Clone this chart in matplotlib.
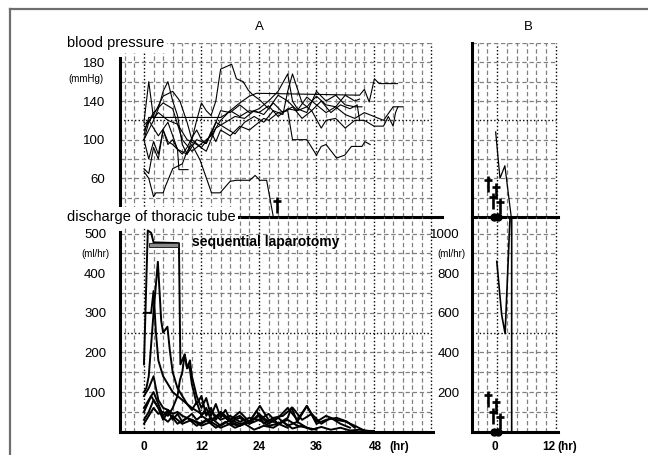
import numpy as np
import matplotlib
matplotlib.use("Agg")
import matplotlib.pyplot as plt
from matplotlib.path import Path
from matplotlib.lines import Line2D

plt.rcParams['font.family'] = ['Liberation Sans', 'DejaVu Sans']

W, H = 648, 455

# ---------------- data ----------------
# panel A, blood pressure (mmHg) against hours
bp1_t = [0, 1, 2, 3, 5, 7, 9, 11, 13, 15, 17, 19, 21, 23, 25, 27, 29, 31, 33, 35, 37, 38, 40, 42, 44, 46, 48, 50, 51, 52, 52.5, 53, 54]
bp1_v = [118, 160, 122, 128, 120, 116, 100, 95, 88, 112, 118, 124, 122, 130, 126, 138, 128, 134, 122, 130, 112, 120, 122, 112, 120, 120, 114, 114, 124, 114, 128, 134, 134]
bp2_t = [0, 1, 2.5, 4, 6, 7.5, 9, 10, 11, 12, 13, 14, 15, 16, 18.3, 19.3, 20.7, 21.8, 22.8, 24.2, 26, 28, 30, 32, 34, 36, 38, 40, 42, 44, 45]
bp2_v = [100, 118, 130, 145, 150, 140, 118, 100, 120, 138, 130, 125, 140, 173, 178, 163, 160, 151, 146, 141, 132, 146, 140, 130, 144, 136, 128, 134, 146, 140, 142]
bp3_t = [0, 2, 3, 4, 5, 6, 7, 8, 9, 10, 12, 14, 16, 18, 20, 22, 24, 26, 28, 30, 31, 32, 34, 36, 38, 40, 42, 44, 45.5]
bp3_v = [100, 120, 132, 150, 160, 140, 125, 95, 85, 100, 92, 105, 130, 128, 136, 128, 132, 140, 150, 168, 140, 132, 128, 150, 140, 146, 136, 134, 134]
bp4_t = [0, 1, 2, 3, 4, 5, 6, 7, 8, 9, 10, 11, 12, 13, 14, 15, 16, 18, 20, 22, 24, 25, 26, 28, 30, 31, 34, 36, 37, 38, 40.2, 41.9, 43.3, 45.5, 46.1, 47.2]
bp4_v = [70, 65, 92, 80, 110, 98, 95, 90, 85, 92, 102, 110, 100, 96, 108, 98, 110, 104, 114, 110, 118, 122, 120, 128, 130, 100, 100, 84, 93, 95, 81, 84, 93, 93, 98, 95]
bp5_t = [0, 1, 2, 2.5, 4, 4.5, 6, 8, 9, 10, 11.7, 13.4, 14.1, 15.9, 18, 19.4, 22.1, 23.2, 24.2, 25.6, 27]
bp5_v = [67, 60, 41, 45, 45, 52, 70, 75, 88, 95, 79, 55, 45, 45, 57, 58, 58, 63, 58, 58, 20]
bp6_t = [0, 1, 2, 3, 4, 5, 6, 7, 7.3, 9.2]
bp6_v = [100, 80, 98, 85, 110, 95, 100, 90, 69, 69]
bp7_t = [0, 1, 16, 17, 18, 20, 22, 24, 26, 28, 30, 32, 34, 36, 38, 40, 42, 44, 46, 48, 50, 52, 53]
bp7_v = [105, 123, 123, 126, 130, 124, 130, 128, 135, 124, 132, 130, 134, 145, 136, 134, 126, 122, 128, 124, 120, 134, 134]
bp8_t = [0, 2, 4, 6, 8, 10, 12, 14, 16, 18, 20, 22, 23.5, 45, 46, 47, 48.1, 49.1, 52.9]
bp8_v = [110, 128, 138, 132, 100, 88, 96, 104, 120, 130, 138, 145, 148, 146, 152, 139, 163, 158, 158]
bp9_t = [0, 1, 3, 5, 7, 9, 11, 13, 15, 17, 19, 21, 23, 25, 27, 29, 30, 31, 33, 35, 37, 39, 41, 43, 44.5, 45]
bp9_v = [115, 120, 104, 118, 90, 85, 100, 96, 118, 112, 106, 118, 124, 118, 130, 126, 150, 168, 138, 130, 140, 128, 136, 132, 136, 120]

# panel A, discharge of thoracic tube (ml/hr)
d1_t = [0, 0.8, 1.5, 2, 7.3, 7.6, 8.5, 9, 9.6, 10, 11, 12, 13, 14, 15, 16, 17, 18, 20, 22, 24, 26, 28, 30, 32, 34, 36]
d1_v = [170, 508, 502, 478, 476, 170, 195, 160, 180, 140, 90, 60, 85, 40, 70, 35, 55, 30, 50, 25, 40, 20, 35, 15, 25, 10, 5]
d2_t = [0, 0.5, 1, 2, 2.9, 3.6, 4, 4.9, 5.4, 6, 7, 8, 9, 10, 11, 12, 13, 14, 16, 18, 20, 22, 24, 26, 28, 30]
d2_v = [100, 110, 140, 300, 429, 280, 250, 265, 205, 150, 110, 90, 70, 55, 75, 40, 60, 30, 45, 25, 35, 20, 30, 15, 20, 10]
d3_t = [0, 1.5, 2, 2.5, 3, 4, 5, 6, 7, 8, 9, 10, 12, 14, 16, 18, 20, 22, 24, 26, 28, 30, 32, 34]
d3_v = [300, 300, 355, 250, 180, 140, 120, 100, 90, 80, 70, 60, 45, 50, 30, 40, 25, 35, 30, 45, 20, 30, 15, 10]
d4_t = [0, 1, 2, 3, 4, 5, 6, 7, 8, 9, 10, 11, 12, 14, 16, 18, 20, 22, 24, 26, 28, 30, 32, 34, 36, 38, 40, 42, 44, 45.8]
d4_v = [90, 110, 140, 80, 60, 55, 45, 50, 40, 35, 45, 30, 40, 25, 50, 30, 40, 20, 45, 25, 35, 60, 30, 65, 25, 40, 30, 26, 15, 4]
d5_t = [0, 1, 2, 3, 4, 5, 6, 7, 8, 9, 10, 12, 14, 16, 18, 20, 22, 23.5, 25, 27, 29, 31, 33, 35, 37, 39, 41, 43]
d5_v = [60, 80, 100, 70, 40, 55, 30, 45, 25, 35, 30, 20, 35, 15, 30, 20, 25, 52, 20, 35, 40, 61, 30, 45, 20, 35, 20, 10]
d6_t = [0, 1, 2, 3, 4, 5, 6, 8, 10, 12, 14, 16, 18, 20, 22, 24.2, 26, 28, 30, 30.8, 32, 34, 36, 38, 40.2, 42.3, 44]
d6_v = [30, 50, 80, 60, 35, 25, 40, 20, 30, 15, 25, 10, 20, 15, 25, 65, 30, 20, 35, 61, 25, 65, 20, 30, 35, 26, 10]
d7_t = [0, 1.5, 3, 4, 5, 7, 9, 11, 13, 15, 17, 19, 21, 23, 25, 27, 29, 31, 33, 35, 37, 39, 41, 43, 45, 47, 48]
d7_v = [50, 90, 60, 30, 50, 20, 35, 15, 30, 10, 25, 10, 20, 5, 15, 10, 25, 8, 15, 5, 12, 5, 10, 3, 5, 2, 2]
d8_t = [0, 1, 2, 3, 4, 5, 6, 7, 7.5, 8, 8.5, 9, 9.5, 10, 11, 12, 13, 14, 15, 16, 18, 20]
d8_v = [20, 40, 60, 45, 50, 40, 60, 90, 130, 150, 195, 160, 165, 120, 70, 90, 40, 60, 30, 50, 25, 15]

lap_start, lap_end, lap_level = 1.0, 7.1, 472   # sequential laparotomy bar

# panel B
bpB_t = [-0.33, 0.55, 1.55, 2.85]
bpB_v = [108, 60, 73, 20]
dB_t = [-0.1, 0.9, 1.6, 2.6, 2.94, 2.94]
dB_v = [860, 590, 495, 1084, 1084, 0]
death_A_t, death_A_v = [27.8], [32]
death_B_t = [-1.96, -0.33, -0.82, 0.55]
death_B_bp = [54, 47, 37, 31]
death_B_d = [164, 130, 80, 55]
dot_B_t = [-0.7, 0.2]

bp_ticks = [60, 100, 140, 180]
dA_ticks = [100, 200, 300, 400, 500]
dB_ticks = [200, 400, 600, 800, 1000]
xA_ticks = [0, 12, 24, 36, 48]
xB_ticks = [0, 12]

# ---------------- figure ----------------
fig = plt.figure(figsize=(W / 100, H / 100), dpi=100)


def px_axes(l, t, r, b):
    return fig.add_axes([l / W, 1 - b / H, (r - l) / W, (b - t) / H])


axA1 = px_axes(120, 43, 442, 217)
axA2 = px_axes(120, 217, 442, 431.7)
axB1 = px_axes(471.7, 43, 557.5, 217)
axB2 = px_axes(471.7, 217, 557.5, 431.7)

dash = dict(color='#808080', lw=0.9, ls=(0, (3.5, 2.2)), zorder=1)
dot = dict(color='black', lw=1.0, ls=(0, (1, 1.6)), zorder=1)


def grid(ax, xs, xlo, xhi, ys, ylo, yhi, dx, dy):
    # vertical lines at xs spanning ylo..yhi, horizontal at ys spanning xlo..xhi
    for x in xs:
        ax.plot([x, x], [ylo, yhi], **(dot if x % dx == 0 else dash))
    for y in ys:
        ax.plot([xlo, xhi], [y, y], **(dot if y == dy else dash))


for ax in (axA1, axA2, axB1, axB2):
    ax.patch.set_visible(False)
    ax.spines['top'].set_visible(False)
    ax.spines['right'].set_visible(False)
    for s in ('left', 'bottom'):
        ax.spines[s].set_linewidth(2.2)
    ax.tick_params(length=0)
    ax.set_xticks([])

axA1.set_xlim(-5.0, 62.2)
axA2.set_xlim(-5.0, 62.2)
axB1.set_xlim(-5.22, 12.29)
axB2.set_xlim(-5.22, 12.29)
axA1.set_ylim(20, 200)
axB1.set_ylim(20, 200)
axA2.set_ylim(0, 542)
axB2.set_ylim(0, 1084)

grid(axA1, range(-4, 61, 2), -5, 60, range(40, 201, 20), 20, 200, 12, 120)
grid(axA2, range(-4, 61, 2), -5, 60, range(50, 501, 50), 0, 542, 12, 250)
grid(axB1, range(-4, 13, 2), -5.22, 12, range(40, 201, 20), 20, 200, 12, 120)
grid(axB2, range(-4, 13, 2), -5.22, 12, range(100, 1001, 100), 0, 1084, 12, 500)

axA1.spines['left'].set_bounds(30, 185)
axA2.spines['left'].set_bounds(0, 504)
axA2.spines['bottom'].set_bounds(-5, 60.3)

axA1.set_yticks(bp_ticks, [str(v) for v in bp_ticks])
axA2.set_yticks(dA_ticks, [str(v) for v in dA_ticks])
axA1.tick_params(axis='y', pad=11, labelsize=9.5)
axA2.tick_params(axis='y', pad=10, labelsize=9.5)
axB1.set_yticks([])
axB2.set_yticks(dB_ticks, [str(v) for v in dB_ticks])
axB2.tick_params(axis='y', pad=8.5, labelsize=9.5)

# blood pressure lines
for t, v in [(bp1_t, bp1_v), (bp2_t, bp2_v), (bp3_t, bp3_v), (bp4_t, bp4_v), (bp5_t, bp5_v),
             (bp6_t, bp6_v), (bp7_t, bp7_v), (bp8_t, bp8_v), (bp9_t, bp9_v)]:
    axA1.plot(t, v, color='black', lw=0.8, zorder=2)

# discharge lines
for t, v in [(d1_t, d1_v), (d2_t, d2_v), (d3_t, d3_v), (d4_t, d4_v), (d5_t, d5_v),
             (d6_t, d6_v), (d7_t, d7_v), (d8_t, d8_v)]:
    axA2.plot(t, v, color='black', lw=1.4, zorder=2)

axA2.barh(lap_level, lap_end - lap_start, left=lap_start, height=10,
          color='#8a8a8a', edgecolor='#222222', lw=0.7, zorder=3)
axA2.text(10, 479, 'sequential laparotomy', fontsize=10, fontweight='bold',
          va='center', ha='left', zorder=4)

# death markers (dagger)
dagger = Path([(0, -1), (0, 1), (-0.55, 0.55), (0.55, 0.55)],
              [Path.MOVETO, Path.LINETO, Path.MOVETO, Path.LINETO])
mk = dict(marker=dagger, ls='none', color='black', ms=11, mew=1.9, zorder=4, clip_on=False)
axA1.plot(death_A_t, death_A_v, **mk)
axB1.plot(death_B_t, death_B_bp, **mk)
axB2.plot(death_B_t, death_B_d, **mk)

# panel B lines
axB1.plot(bpB_t, bpB_v, color='black', lw=0.9, zorder=2)
axB2.plot(dB_t, dB_v, color='black', lw=1.2, zorder=2, clip_on=False)
dotk = dict(marker='o', ls='none', color='black', ms=5, zorder=5, clip_on=False)
axB1.plot(dot_B_t, [20, 20], **dotk)
axB2.plot(dot_B_t, [0, 0], **dotk)

# x labels
lab = dict(textcoords='offset points', va='center', fontsize=8.5, fontweight='bold')
for t in xA_ticks:
    axA2.annotate(str(t), xy=(t, 0), xycoords=('data', 'axes fraction'),
                  xytext=(1 if t == 48 else 0, -11), ha='center', **lab)
axA2.annotate('(hr)', xy=(48, 0), xycoords=('data', 'axes fraction'),
              xytext=(11, -11), ha='left', **lab)
axB2.annotate('0', xy=(0, 0), xycoords=('data', 'axes fraction'),
              xytext=(-1.5, -11), ha='center', **lab)
axB2.annotate('12', xy=(12, 0), xycoords=('data', 'axes fraction'),
              xytext=(-5, -11), ha='center', **lab)
axB2.annotate('(hr)', xy=(12, 0), xycoords=('data', 'axes fraction'),
              xytext=(1, -11), ha='left', **lab)

# panel letters
axA1.annotate('A', xy=(24, 1), xycoords=('data', 'axes fraction'), xytext=(0, 11.5),
              textcoords='offset points', ha='center', va='center', fontsize=9.5)
axB1.annotate('B', xy=(6.3, 1), xycoords=('data', 'axes fraction'), xytext=(0, 11.5),
              textcoords='offset points', ha='center', va='center', fontsize=9.5)


def ftext(x, y, s, **kw):
    fig.text(x / W, 1 - y / H, s, **kw)


box = dict(facecolor='white', edgecolor='none', pad=2)
ftext(67, 43, 'blood pressure', fontsize=10.5, va='center', ha='left', bbox=box)
ftext(67, 217, 'discharge of thoracic tube', fontsize=10.5, va='center', ha='left', bbox=box)
ftext(103, 79, '(mmHg)', fontsize=7, va='center', ha='right')
ftext(110, 254, '(ml/hr)', fontsize=7, va='center', ha='right')
ftext(466, 254, '(ml/hr)', fontsize=7, va='center', ha='right')

# outer frame
fig.add_artist(Line2D([10 / W, 10 / W], [0, 1 - 9 / H], transform=fig.transFigure,
                      color='#6e6e6e', lw=1.6))
fig.add_artist(Line2D([10 / W, 1], [1 - 9 / H, 1 - 9 / H], transform=fig.transFigure,
                      color='#6e6e6e', lw=1.6))

fig.savefig('out.png', dpi=100)
